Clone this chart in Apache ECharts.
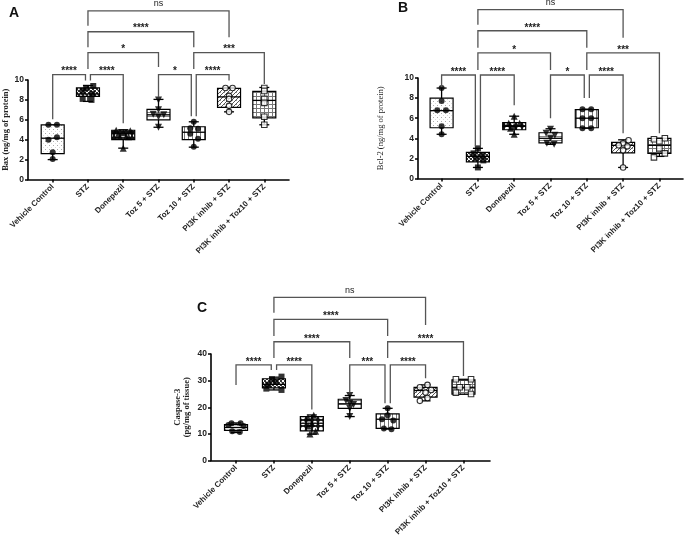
<!DOCTYPE html>
<html><head><meta charset="utf-8">
<script src="https://cdn.jsdelivr.net/npm/echarts@6/dist/echarts.min.js"></script>
<style>html,body{margin:0;padding:0;background:#fff}#c{width:685px;height:541px}</style>
</head><body><div id="c"></div>
<script>
// ---------- DATA ----------
const categories = ['Vehicle Control','STZ','Donepezil','Toz 5 + STZ','Toz 10 + STZ','PI3K inhib + STZ','PI3K inhib + Toz10 + STZ'];
const catIndex = [0,1,2,3,4,5,6];

// box stats per group: [min, q1, median, q3, max]
const boxA = [[2.0,2.6,4.15,5.5,5.5],[7.85,8.35,8.6,9.2,9.45],[3.15,4.0,4.6,4.95,5.0],[5.25,6.0,6.5,7.05,8.05],[3.25,4.0,4.75,5.3,5.8],[6.8,7.25,8.3,9.15,9.25],[5.5,6.2,7.95,8.85,9.25]];
const boxB = [[4.4,5.05,6.75,8.0,9.0],[1.1,1.65,2.2,2.6,3.0],[4.4,4.85,5.2,5.55,6.2],[3.4,3.55,4.0,4.55,4.95],[5.0,5.05,6.0,6.85,6.9],[1.1,2.55,3.3,3.6,3.85],[2.2,2.5,3.3,4.0,4.0]];
const boxC = [[10.5,11.3,12.4,13.5,14.1],[26.5,27.3,28.6,30.7,31.3],[9.9,11.1,14.0,16.5,17.1],[16.5,19.6,21.3,23.0,24.4],[11.8,12.1,15.5,17.5,19.6],[22.4,23.8,26.3,27.5,28.4],[24.9,24.9,27.5,30.3,30.5]];

// individual points per group (values) and horizontal jitter (category units)
const ptsA = [[5.5,5.5,4.0,4.25,2.75,2.05],[9.4,9.2,8.9,8.6,8.1,8.0],[4.95,4.9,4.7,4.5,4.3,3.15],[8.0,7.0,6.55,6.5,6.3,5.25],[5.8,5.15,5.1,4.6,4.1,3.3],[9.2,9.2,8.4,8.1,7.4,6.8],[9.2,8.9,8.1,7.7,6.3,5.5]];
const jitA = [[-0.12,0.12,-0.12,0.12,0,0],[0.15,-0.05,-0.15,0.12,-0.15,0.1],[-0.2,0.2,0,-0.15,0.15,0],[0,0,-0.15,0.15,0,0],[0,-0.1,0.12,-0.1,0.12,0],[-0.1,0.1,0,0,0,0],[0,0,0,0,0,0]];
const ptsB = [[9.0,7.7,6.8,6.8,5.2,4.4],[3.0,2.5,2.3,2.0,1.8,1.1],[6.2,5.5,5.5,5.2,5.0,4.4],[4.9,4.5,4.3,4.0,3.5,3.4],[6.9,6.9,6.0,6.0,5.0,5.0],[3.8,3.5,3.3,3.2,2.8,1.1],[4.0,3.9,3.7,3.0,2.5,2.1]];
const jitB = [[0,0,-0.12,0.12,0,0],[0,-0.12,0.12,-0.05,0.15,0],[0,-0.15,0.15,0,-0.1,0],[0,-0.12,0.12,0,-0.1,0.1],[-0.12,0.12,-0.12,0.12,-0.12,0.12],[0.15,0,-0.12,0.12,0,0],[0.15,-0.15,0,0,0.15,-0.15]];
const ptsC = [[14.0,14.0,13.3,13.0,11.0,10.7],[31.5,30.5,29.5,28.5,27.0,26.5],[17.0,16.0,14.0,13.0,11.0,10.0],[24.4,22.5,21.5,21.0,19.5,16.5],[19.6,17.0,15.5,15.0,12.0,11.7],[28.4,27.5,26.5,25.5,23.5,22.4],[30.5,30.5,27.5,27.5,25.5,25.0]];
const jitC = [[-0.12,0.12,-0.2,0.2,-0.1,0.1],[0.2,-0.05,0.05,-0.15,-0.2,0.2],[0.05,-0.1,0,-0.1,0.1,-0.05],[0,-0.1,0,0.1,0,0],[0,0,-0.15,0.15,-0.1,0.1],[0.05,-0.15,0.15,0,0.05,-0.15],[-0.2,0.2,-0.1,0.1,-0.2,0.2]];

// significance brackets: [xStart, xEnd, level, leftLegEnd, rightLegEnd]
const bracketsA = [[0,0.93,10.55,6.05,9.95],[1.07,2,10.55,9.95,5.65],[3,3.93,10.55,8.3,6.35],[4.07,5,10.55,6.35,9.95],[1,3,12.75,11.1,11.3],[4,6,12.75,11.1,9.6],[1,4,14.85,13.3,13.3],[1,5,16.95,15.45,14.3]];
const labelsA = ['****','****','*','****','*','***','****','ns'];
const bracketsB = [[0,0.93,10.3,9.1,3.2],[1.07,2,10.3,3.2,7.3],[3,3.93,10.3,6.0,8.0],[4.07,5,10.3,8.0,4.5],[1,3,12.5,10.8,10.8],[4,6,12.5,10.8,4.5],[1,4,14.7,13.0,13.0],[1,5,16.8,15.3,14.0]];
const labelsB = ['****','****','*','****','*','***','****','ns'];
const bracketsC = [[0,0.93,35.9,28.4,34.0],[1.07,2,35.9,34.0,19.2],[3,3.93,35.9,25.5,21.5],[4.07,5,35.9,21.5,30.9],[1,3,44.6,38.5,38.5],[4,6,44.6,38.5,31.7],[1,4,53.0,46.8,46.8],[1,5,61.3,55.5,50.9]];
const labelsC = ['****','****','***','****','****','****','****','ns'];

// ---------- STYLE HELPERS ----------
function pat(kind){
  const c = document.createElement('canvas');
  const s = kind === 'circles' ? 6 : 4; c.width = s; c.height = s;
  const g = c.getContext('2d');
  g.fillStyle = '#fff'; g.fillRect(0,0,s,s);
  if (kind === 'dots') { g.fillStyle = '#aaa'; g.fillRect(1,1,1,1); g.fillStyle='#ddd'; g.fillRect(3,3,1,1); }
  else if (kind === 'cross') { g.fillStyle = '#333'; g.fillRect(0,0,2,2); g.fillRect(2,2,2,2); g.fillStyle='#888'; g.fillRect(1,2,1,1); }
  else if (kind === 'circles') { g.fillStyle = '#111'; g.fillRect(0,0,s,s); g.fillStyle='#fff'; g.beginPath(); g.arc(3,3,2.2,0,Math.PI*2); g.fill(); }
  else if (kind === 'hlines') { g.fillStyle = '#888'; g.fillRect(0,0,s,1); }
  else if (kind === 'vlines') { g.fillStyle = '#777'; g.fillRect(0,0,1,s); }
  else if (kind === 'diag') { g.fillStyle = '#555'; for (let i=0;i<s;i++){ g.fillRect(i,s-1-i,1,1); } g.fillStyle='#999'; g.fillRect(0,0,1,1); }
  else if (kind === 'grid') { g.fillStyle = '#777'; g.fillRect(0,0,s,1); g.fillRect(0,0,1,s); }
  return {image: c, repeat: 'repeat'};
}
const patterns = ['dots','cross','circles','hlines','vlines','diag','grid'].map(pat);
const symbols = ['circle','rect','triangle','triangle','circle','circle','rect'];
const rotates = [0,0,0,180,0,0,0];
const hollow = [false,false,false,false,false,true,true];

const FONT = 'Liberation Sans, Arial, sans-serif';
const SERIF = 'Liberation Serif, Times New Roman, serif';

function boxRender(list){
  return function(params, api){
    const i = params.dataIndex, s = list[i];
    const hw = 11.5, cw = 5;
    const pMin = api.coord([i, s[0]]), pQ1 = api.coord([i, s[1]]), pMed = api.coord([i, s[2]]),
          pQ3 = api.coord([i, s[3]]), pMax = api.coord([i, s[4]]);
    const x = pMin[0];
    const ls = {stroke:'#000', lineWidth:1.3};
    return {type:'group', children:[
      {type:'line', shape:{x1:x,y1:pMax[1],x2:x,y2:pQ3[1]}, style:ls},
      {type:'line', shape:{x1:x,y1:pQ1[1],x2:x,y2:pMin[1]}, style:ls},
      {type:'line', shape:{x1:x-cw,y1:pMax[1],x2:x+cw,y2:pMax[1]}, style:ls},
      {type:'line', shape:{x1:x-cw,y1:pMin[1],x2:x+cw,y2:pMin[1]}, style:ls},
      {type:'rect', shape:{x:x-hw,y:pQ3[1],width:2*hw,height:Math.max(pQ1[1]-pQ3[1],1)}, style:{fill:patterns[i], stroke:'#000', lineWidth:1.2}},
      {type:'line', shape:{x1:x-hw,y1:pMed[1],x2:x+hw,y2:pMed[1]}, style:ls}
    ]};
  };
}
function bracketRender(list, labels){
  return function(params, api){
    const b = list[params.dataIndex], lab = labels[params.dataIndex];
    const p1 = api.coord([b[0], b[3]]), p1t = api.coord([b[0], b[2]]), p2t = api.coord([b[1], b[2]]), p2 = api.coord([b[1], b[4]]);
    const ns = lab === 'ns';
    return {type:'group', children:[
      {type:'polyline', shape:{points:[p1,p1t,p2t,p2]}, style:{stroke:'#555', lineWidth:1.3, fill:null}},
      {type:'text', x:(p1t[0]+p2t[0])/2, y:p1t[1] - (ns ? 7 : 3),
       style:{text:lab, fill:'#222', font:(ns ? 'normal 9px ' : 'bold 10px ') + FONT, align:'center', verticalAlign:'middle'}}
    ]};
  };
}

function makePanel(gi, box, pts, jit, brk, labs){
  const series = [];
  series.push({type:'custom', xAxisIndex:gi, yAxisIndex:gi, renderItem: boxRender(box),
    data: box.map((s,i)=>[i, s[0], s[4]]), encode:{x:0, y:[1,2]}, z:2, clip:false, silent:true});
  const sdata = [];
  pts.forEach((arr, i) => arr.forEach((v, k) => {
    sdata.push({value:[catIndex[i] + jit[i][k], v], symbol: symbols[i], symbolRotate: rotates[i],
      symbolSize: hollow[i] ? 5.5 : (symbols[i]==='triangle' ? 7 : 6),
      itemStyle: hollow[i] ? {color:'#fff', borderColor:'#000', borderWidth:1.1} : {color:'#000'}});
  }));
  series.push({type:'scatter', xAxisIndex:gi, yAxisIndex:gi, data:sdata, z:3, silent:true, clip:false});
  series.push({type:'custom', xAxisIndex:gi, yAxisIndex:gi, renderItem: bracketRender(brk, labs),
    data: brk.map(b=>[b[0], b[1], b[2]]), encode:{x:[0,1], y:2}, z:4, clip:false, silent:true});
  return series;
}

function xAx(gi, min, max){
  return {gridIndex:gi, type:'value', min:min, max:max,
    axisLine:{show:true, onZero:false, lineStyle:{color:'#000', width:1.6}},
    splitLine:{show:false},
    axisTick:{show:true, customValues:catIndex, length:3, lineStyle:{color:'#000', width:1.5}},
    axisLabel:{show:true, customValues:catIndex, rotate:45, margin:6, color:'#222',
      fontFamily:FONT, fontWeight:'bold', fontSize:8, formatter: v => categories[Math.round(v)]}};
}
function yAx(gi, max, interval, name, bold, gap){
  return {gridIndex:gi, type:'value', min:0, max:max, interval:interval,
    axisLine:{show:true, onZero:false, lineStyle:{color:'#000', width:1.6}},
    splitLine:{show:false},
    axisTick:{show:true, length:3, lineStyle:{color:'#000', width:1.5}},
    axisLabel:{color:'#222', fontFamily:FONT, fontWeight:'bold', fontSize:8.5, margin:4},
    name:name, nameLocation:'middle', nameGap:gap, nameRotate:90,
    nameTextStyle:{fontFamily:SERIF, fontWeight: bold ? 'bold' : 'normal', fontSize:8.5, color:'#222', lineHeight:9}};
}

const chart = echarts.init(document.getElementById('c'), null, {renderer:'canvas'});
chart.setOption({
  animation:false,
  backgroundColor:'#fff',
  grid:[
    {left:25, top:80, width:264, height:99.5},
    {left:418, top:78, width:265, height:100.5},
    {left:211, top:354, width:279, height:106.5}
  ],
  xAxis:[xAx(0,-0.7,6.7), xAx(1,-0.65,6.65), xAx(2,-0.66,6.7)],
  yAxis:[yAx(0,10,2,'Bax (ng/mg of protein)',true,18), yAx(1,10,2,'Bcl-2 (ng/mg of protein)',false,33), yAx(2,40,10,'Caspase-3\n(pg/mg of tissue)',true,20)],
  graphic:[
    {type:'text', left:9, top:6, style:{text:'A', font:'bold 14px '+FONT, fill:'#111'}},
    {type:'text', left:398, top:1, style:{text:'B', font:'bold 14px '+FONT, fill:'#111'}},
    {type:'text', left:197, top:301, style:{text:'C', font:'bold 14px '+FONT, fill:'#111'}}
  ],
  series:[].concat(
    makePanel(0, boxA, ptsA, jitA, bracketsA, labelsA),
    makePanel(1, boxB, ptsB, jitB, bracketsB, labelsB),
    makePanel(2, boxC, ptsC, jitC, bracketsC, labelsC)
  )
});
</script></body></html>
